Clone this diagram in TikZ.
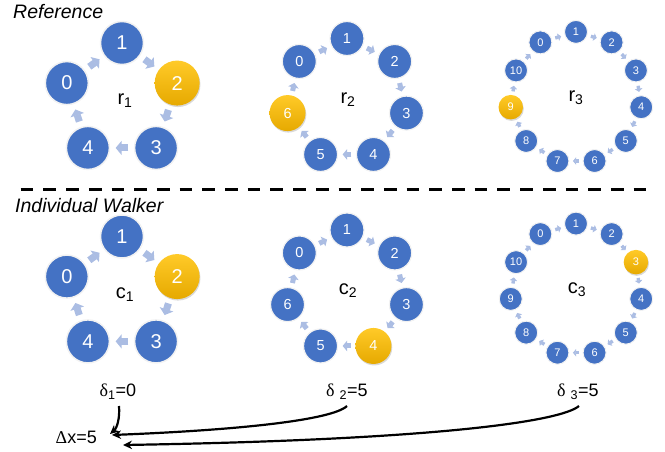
\documentclass[tikz,border=0pt]{standalone}
\usepackage{fontspec}
\setmainfont{Liberation Sans}
\newfontfamily\grk{Liberation Serif}
\usetikzlibrary{arrows.meta,calc,shadows}
\definecolor{nblue}{HTML}{4472C4}
\definecolor{arrc}{HTML}{ABBDE3}
\definecolor{ytop}{HTML}{FFCA28}
\definecolor{ybot}{HTML}{E6A900}
\definecolor{nedge}{HTML}{F2F2F2}
\tikzset{
  bnode/.style={circle,fill=nblue,draw=nedge,text=white,inner sep=0pt},
  ynode/.style={circle,top color=ytop,bottom color=ybot,draw=none,text=white,inner sep=0pt,
     drop shadow={opacity=0.3,shadow xshift=0.8pt,shadow yshift=-1.5pt}},
  blA/.style={bnode,minimum size=43pt,line width=1.5pt,font=\fontsize{20}{24}\selectfont},
  hlA/.style={ynode,minimum size=45pt,font=\fontsize{20}{24}\selectfont},
  blB/.style={bnode,minimum size=34pt,line width=1.2pt,font=\fontsize{14.5}{17}\selectfont},
  hlB/.style={ynode,minimum size=36pt,font=\fontsize{14.5}{17}\selectfont},
  blC/.style={bnode,minimum size=23pt,line width=1pt,font=\fontsize{11}{13}\selectfont},
  hlC/.style={ynode,minimum size=24.5pt,font=\fontsize{11}{13}\selectfont},
  arrA/.style={draw=arrc,line width=7pt,-{Triangle[length=6pt,width=14pt]},shorten <=5.5pt,shorten >=5.5pt},
  arrB/.style={draw=arrc,line width=5pt,-{Triangle[length=4.5pt,width=10.5pt]},shorten <=4.5pt,shorten >=4.5pt},
  arrC/.style={draw=arrc,line width=3.4pt,-{Triangle[length=3.2pt,width=7.5pt]},shorten <=3.5pt,shorten >=3.5pt},
  ringlabel/.style={font=\fontsize{20}{23}\selectfont,text=black},
  title/.style={font=\fontsize{19.5}{22}\selectfont\itshape,anchor=base west,inner sep=0pt},
  dlabel/.style={font=\fontsize{18}{21}\selectfont,inner sep=1pt},
  bigarr/.style={line width=2.2pt,-{Stealth[length=9pt,width=8.5pt]}},
  divider/.style={line width=3.6pt,dash pattern=on 12.7pt off 10pt}
}
% #1 name, #2 cx, #3 cy, #4 N, #5 R, #6 highlighted index, #7 size class, #8 label, #9 label shift x
\newcommand\ringdraw[9]{%
  \pgfmathtruncatemacro\lastk{#4-1}%
  \foreach \k in {0,...,\lastk}{%
    \pgfmathsetmacro\ang{90-(\k-1)*360/#4}%
    \ifnum\k=#6\relax\tikzset{cur/.style={hl#7}}\else\tikzset{cur/.style={bl#7}}\fi
    \node[cur] (#1-\k) at ($(#2,#3)+(\ang:#5pt)$) {\k};
  }%
  \foreach \k in {0,...,\lastk}{%
    \pgfmathtruncatemacro\nk{mod(\k+1,#4)}%
    \draw[arr#7] (#1-\k) -- (#1-\nk);
  }%
  \node[ringlabel] (#1-lab) at ($(#2,#3)+(#9pt,0pt)$) {#8};
}
\begin{document}
\begin{tikzpicture}[x=1pt,y=-1pt]
\useasboundingbox (0,0) rectangle (665,452);
\node[title] (reftitle) at (13,18.5) {Reference};
\node[title] (indtitle) at (15,212) {Individual Walker};
\coordinate (dl) at (20.7,189.5);
\coordinate (dr) at (647,189.5);
\draw[divider] (dl) -- (dr);

\ringdraw{r1}{122}{101}{5}{58}{2}{A}{r\textsubscript{1}}{3}
\ringdraw{r2}{347}{99.5}{7}{61}{6}{B}{r\textsubscript{2}}{1}
\ringdraw{r3}{576}{97.8}{11}{65.9}{9}{C}{r\textsubscript{3}}{0}
\ringdraw{c1}{122}{294.5}{5}{58}{2}{A}{c\textsubscript{1}}{3}
\ringdraw{c2}{347}{291}{7}{61}{4}{B}{c\textsubscript{2}}{1}
\ringdraw{c3}{576}{289.5}{11}{65.9}{3}{C}{c\textsubscript{3}}{1}

\node[dlabel] (d1) at (118,392) {{\grk δ}\textsubscript{1}=0};
\node[dlabel] (d2) at (347,392) {{\grk δ} \textsubscript{2}=5};
\node[dlabel] (d3) at (578,392) {{\grk δ} \textsubscript{3}=5};
\node[dlabel,anchor=east] (dx) at (98,437) {{\grk Δ}x=5};

\coordinate (s1) at (119,406);
\coordinate (s2) at (347,406);
\coordinate (s3) at (579,406);
\coordinate (t1) at (110,434);
\coordinate (t2) at (112,435);
\coordinate (t3) at (123,445);
\draw[bigarr] (s1) .. controls (120,418) and (117,428) .. (t1);
\draw[bigarr] (s2) .. controls (332,420) and (240,430) .. (t2);
\draw[bigarr] (s3) .. controls (560,422) and (430,440) .. (t3);
\end{tikzpicture}
\end{document}
